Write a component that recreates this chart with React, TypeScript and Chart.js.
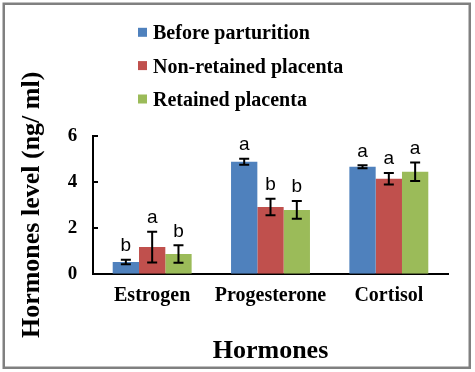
import React, { useEffect, useRef } from 'react';
import { Chart, registerables } from 'chart.js';

Chart.register(...registerables);

const categories = ['Estrogen', 'Progesterone', 'Cortisol'];
const seriesNames = ['Before parturition', 'Non-retained placenta', 'Retained placenta'];
const beforeValues = [0.51, 4.88, 4.66];
const nonRetainedValues = [1.16, 2.91, 4.14];
const retainedValues = [0.86, 2.78, 4.44];
const beforeErrors = [0.1, 0.13, 0.07];
const nonRetainedErrors = [0.67, 0.36, 0.25];
const retainedErrors = [0.38, 0.39, 0.4];
const beforeLetters = ['b', 'a', 'a'];
const nonRetainedLetters = ['a', 'b', 'a'];
const retainedLetters = ['b', 'b', 'a'];
const yTickValues = [0, 2, 4, 6];
const seriesColors = ['#4F81BD', '#C0504D', '#9BBB59'];
const xTitle = 'Hormones';
const yTitle = 'Hormones level (ng/ ml)';

const SERIF = '"Liberation Serif", "Times New Roman", serif';
const SANS = '"Liberation Sans", Arial, sans-serif';

const overlayPlugin = {
  id: 'overlay',
  afterDatasetsDraw(chart: any) {
    const ctx = chart.ctx;
    const yScale = chart.scales.y;
    const area = chart.chartArea;
    ctx.save();
    // inner tick marks on y axis
    ctx.strokeStyle = '#000';
    ctx.lineWidth = 2;
    yTickValues.forEach((v) => {
      if (v === 0) return;
      const py = Math.round(yScale.getPixelForValue(v));
      ctx.beginPath();
      ctx.moveTo(area.left, py);
      ctx.lineTo(area.left + 5, py);
      ctx.stroke();
    });
    chart.data.datasets.forEach((ds: any, di: number) => {
      const meta = chart.getDatasetMeta(di);
      meta.data.forEach((bar: any, i: number) => {
        const v = ds.data[i];
        const e = ds.errors[i];
        const top = yScale.getPixelForValue(v + e);
        const bot = yScale.getPixelForValue(v - e);
        const x = bar.x;
        ctx.strokeStyle = '#000';
        ctx.lineWidth = 2;
        ctx.beginPath();
        ctx.moveTo(x, top);
        ctx.lineTo(x, bot);
        ctx.moveTo(x - 5, top);
        ctx.lineTo(x + 5, top);
        ctx.moveTo(x - 5, bot);
        ctx.lineTo(x + 5, bot);
        ctx.stroke();
        ctx.fillStyle = '#000';
        ctx.font = '19px ' + SANS;
        ctx.textAlign = 'center';
        ctx.textBaseline = 'alphabetic';
        ctx.fillText(ds.letters[i], x, top - 8.5);
      });
    });
    ctx.restore();
  },
  afterDraw(chart: any) {
    const ctx = chart.ctx;
    ctx.save();
    // legend
    const baselines = [39.3, 72.6, 106];
    chart.data.datasets.forEach((ds: any, di: number) => {
      const b = baselines[di];
      ctx.fillStyle = ds.backgroundColor;
      ctx.fillRect(138, b - 11.5, 9, 9);
      ctx.fillStyle = '#000';
      ctx.font = 'bold 20px ' + SERIF;
      ctx.textAlign = 'left';
      ctx.textBaseline = 'alphabetic';
      ctx.fillText(ds.label, 153, b);
    });
    // outer border
    ctx.strokeStyle = '#808080';
    ctx.lineWidth = 2.5;
    ctx.strokeRect(3.75, 3.75, 466, 364);
    ctx.restore();
  },
};

export default function App() {
  const ref = useRef<HTMLCanvasElement | null>(null);
  useEffect(() => {
    document.body.style.margin = '0';
    const canvas = ref.current;
    if (!canvas) return;
    const valueSets = [beforeValues, nonRetainedValues, retainedValues];
    const errorSets = [beforeErrors, nonRetainedErrors, retainedErrors];
    const letterSets = [beforeLetters, nonRetainedLetters, retainedLetters];
    const chart = new Chart(canvas, {
      type: 'bar',
      data: {
        labels: categories,
        datasets: seriesNames.map((name, i) => ({
          label: name,
          data: valueSets[i],
          errors: errorSets[i],
          letters: letterSets[i],
          backgroundColor: seriesColors[i],
          borderWidth: 0,
          categoryPercentage: 0.667,
          barPercentage: 1.0,
        })) as any,
      },
      options: {
        animation: false,
        responsive: false,
        maintainAspectRatio: false,
        layout: { padding: { top: 136, right: 27, left: 0, bottom: 0 } },
        plugins: { legend: { display: false }, tooltip: { enabled: false } },
        scales: {
          x: {
            grid: { display: false, drawTicks: false },
            border: { display: true, color: '#000', width: 2 },
            ticks: { color: '#000', padding: 10, font: { family: SERIF, size: 20, weight: 'bold' } },
            title: {
              display: true,
              text: xTitle,
              color: '#000',
              font: { family: SERIF, size: 26, weight: 'bold', lineHeight: 1.2 },
              padding: { top: 0, bottom: 5 },
            },
            afterFit: (s: any) => { s.height = 98.3; },
          },
          y: {
            min: 0,
            max: 6,
            grid: { display: false, drawTicks: false },
            border: { display: true, color: '#000', width: 2 },
            afterBuildTicks: (s: any) => { s.ticks = yTickValues.map((v) => ({ value: v })); },
            ticks: { color: '#000', padding: 15.7, font: { family: SERIF, size: 19, weight: 'bold' } },
            title: {
              display: true,
              text: yTitle,
              color: '#000',
              font: { family: SERIF, size: 26, weight: 'bold', lineHeight: 1.2 },
              padding: { top: 16.4, bottom: 0 },
            },
            afterFit: (s: any) => { s.width = 93; },
          },
        },
      } as any,
      plugins: [overlayPlugin],
    });
    return () => chart.destroy();
  }, []);
  return <canvas ref={ref} width={475} height={372} style={{ display: 'block' }} />;
}
